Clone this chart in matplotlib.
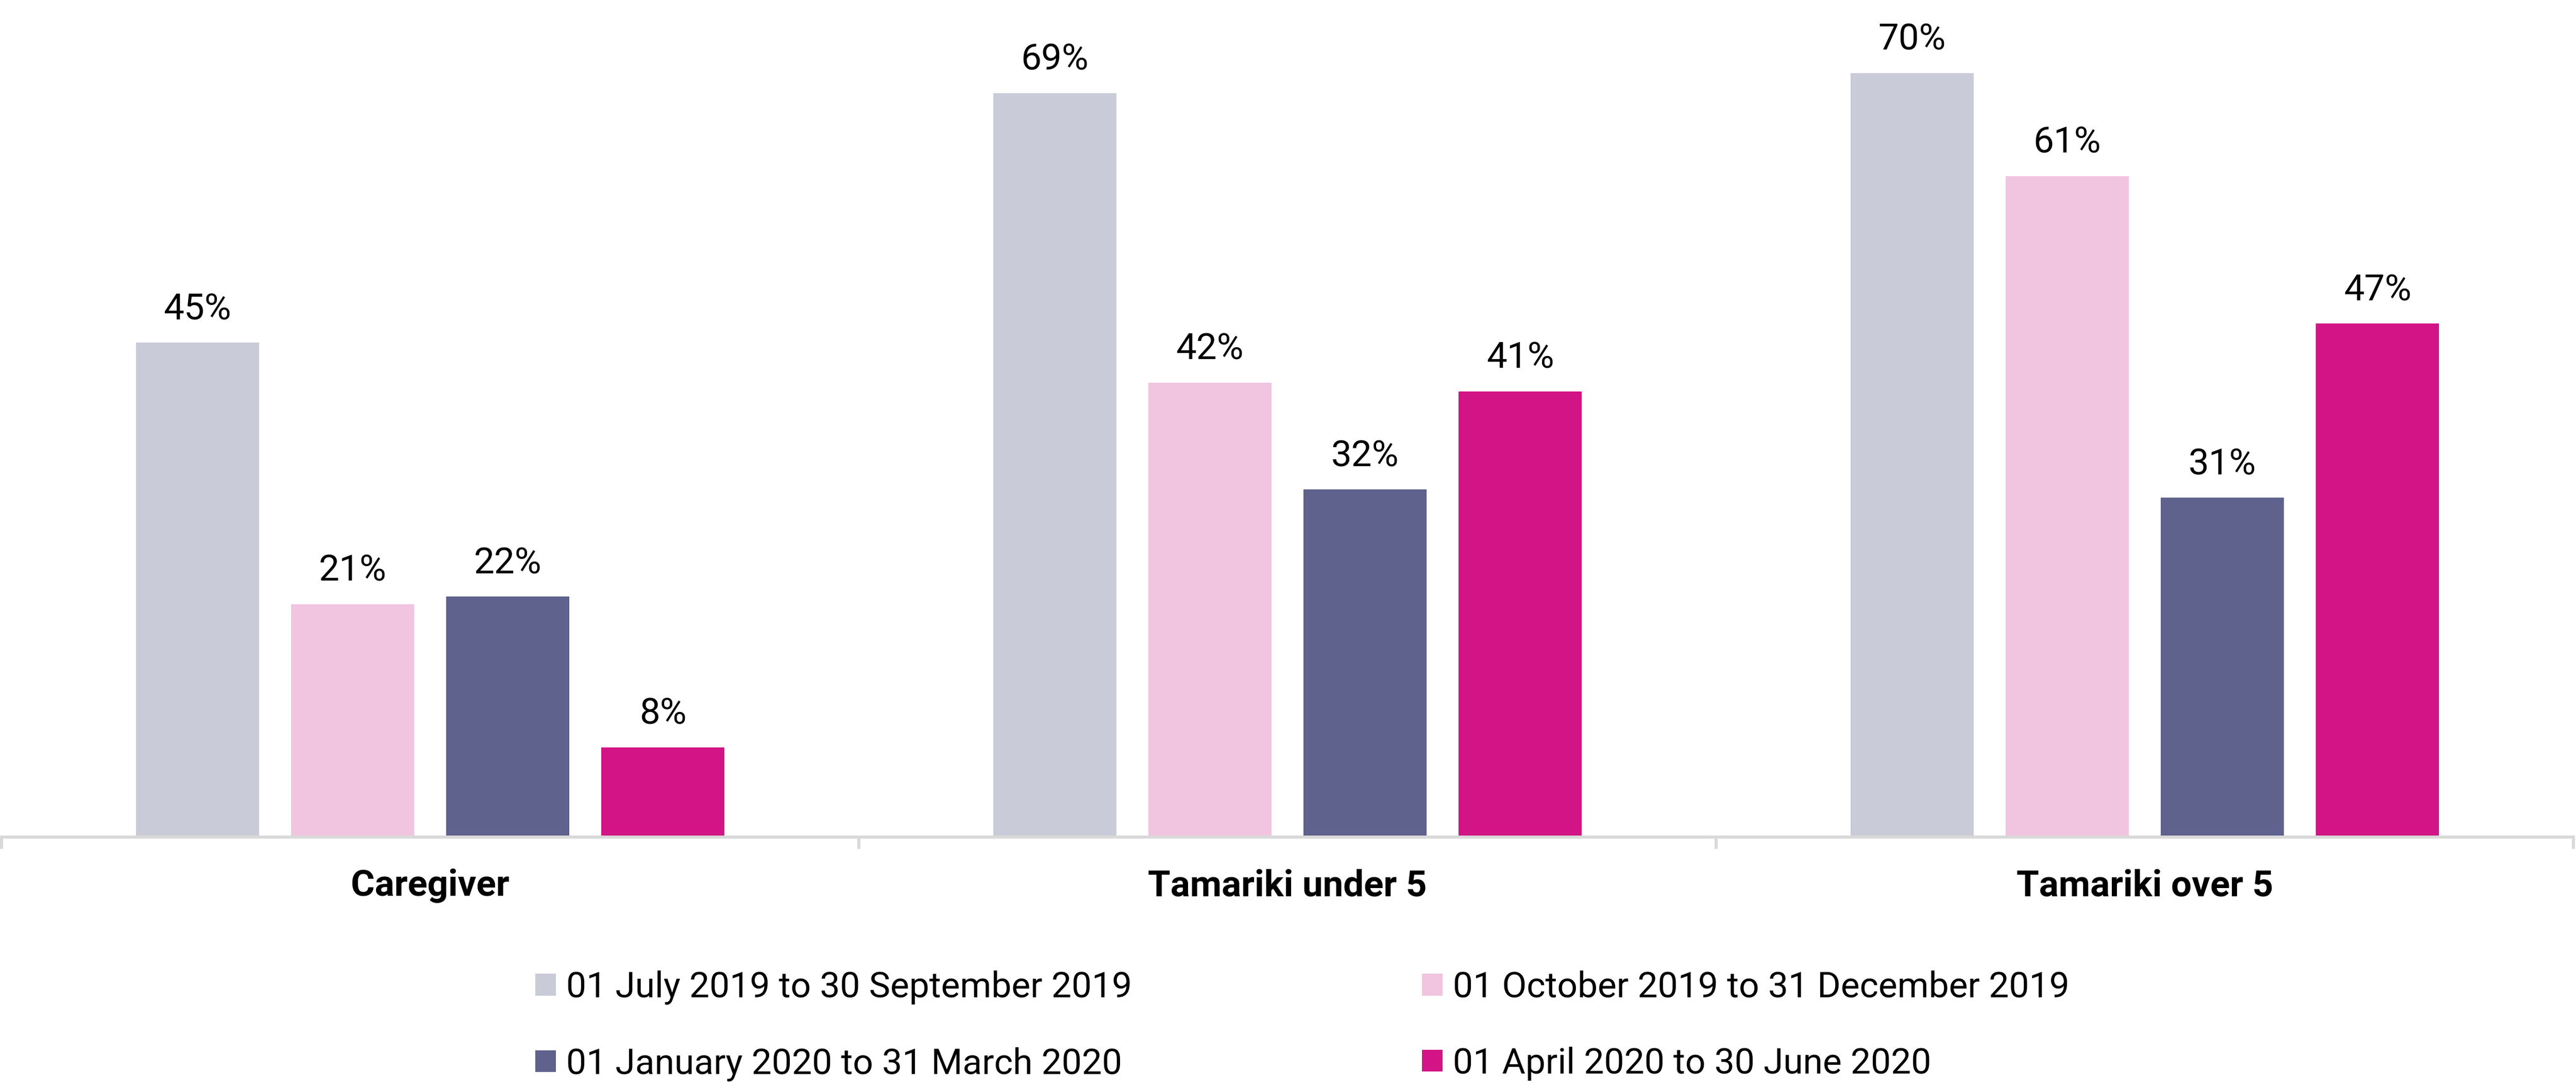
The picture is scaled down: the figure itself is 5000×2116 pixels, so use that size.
import matplotlib
matplotlib.use("Agg")
import matplotlib.pyplot as plt
import numpy as np
from matplotlib.patches import Patch

categories = ["Caregiver", "Tamariki under 5", "Tamariki over 5"]
series_names = [
    "01 July 2019 to 30 September 2019",
    "01 October 2019 to 31 December 2019",
    "01 January 2020 to 31 March 2020",
    "01 April 2020 to 30 June 2020",
]
# bar heights (%)
jul_sep_2019 = [45.25, 68.1, 69.95]
oct_dec_2019 = [21.3, 41.6, 60.5]
jan_mar_2020 = [22.0, 31.8, 31.05]
apr_jun_2020 = [8.2, 40.8, 47.0]
series_values = [jul_sep_2019, oct_dec_2019, jan_mar_2020, apr_jun_2020]
# data labels as printed on the chart
jul_sep_2019_labels = ["45%", "69%", "70%"]
oct_dec_2019_labels = ["21%", "42%", "61%"]
jan_mar_2020_labels = ["22%", "32%", "31%"]
apr_jun_2020_labels = ["8%", "41%", "47%"]
series_labels = [jul_sep_2019_labels, oct_dec_2019_labels,
                 jan_mar_2020_labels, apr_jun_2020_labels]
colors = ["#C9CBD9", "#F1C4E0", "#5E628C", "#D21486"]

plt.rcParams["font.family"] = ["Roboto", "DejaVu Sans"]

W, H = 5000, 2116
DPI = 100
fig = plt.figure(figsize=(W / DPI, H / DPI), dpi=DPI)

ax_left_px, ax_right_px = 3, 4995
ax_bottom_px = 1624.5  # from top
ax = fig.add_axes([ax_left_px / W, (H - ax_bottom_px) / H,
                   (ax_right_px - ax_left_px) / W, ax_bottom_px / H])

x = np.arange(len(categories))
bar_w = 0.1435
step = 0.181
for i, (vals, labs, col) in enumerate(zip(series_values, series_labels, colors)):
    pos = x + (i - 1.5) * step
    bars = ax.bar(pos, vals, width=bar_w, color=col, zorder=2)
    for b, v, t in zip(bars, vals, labs):
        ax.annotate(t, (b.get_x() + b.get_width() / 2, v),
                    xytext=(0, 32.4), textcoords="offset points",
                    ha="center", va="baseline", fontsize=51, color="black")

ax.set_xlim(-0.5, len(categories) - 0.5)
ax.set_ylim(0, 1624.5 / 21.2)
for s in ["top", "right", "left"]:
    ax.spines[s].set_visible(False)
ax.spines["bottom"].set_color("#D9D9D9")
ax.spines["bottom"].set_linewidth(4.3)
ax.spines["bottom"].set_zorder(3)
ax.set_yticks([])
ax.set_xticks(np.arange(-0.5, len(categories), 1.0))
ax.set_xticklabels([])
ax.tick_params(axis="x", length=16.5, width=4.3, color="#D9D9D9", direction="out")

lab_y = -(1739 - ax_bottom_px) / ax_bottom_px
for xi, c in zip(x, categories):
    ax.text(xi, lab_y, c, transform=ax.get_xaxis_transform(), ha="center",
            va="baseline", fontsize=51, fontweight="bold", color="black")

handles = [Patch(facecolor=c, edgecolor="none") for c in colors]
order = [0, 2, 1, 3]
leg = fig.legend([handles[i] for i in order], [series_names[i] for i in order],
                 ncol=2, loc="upper left", bbox_to_anchor=(1039 / W, 1 - 1884 / H),
                 frameon=False, fontsize=50, handlelength=0.576, handleheight=0.557,
                 handletextpad=0.29, columnspacing=8.1, labelspacing=1.18,
                 borderpad=0, borderaxespad=0)

fig.savefig("out.png", dpi=DPI, facecolor="white")
